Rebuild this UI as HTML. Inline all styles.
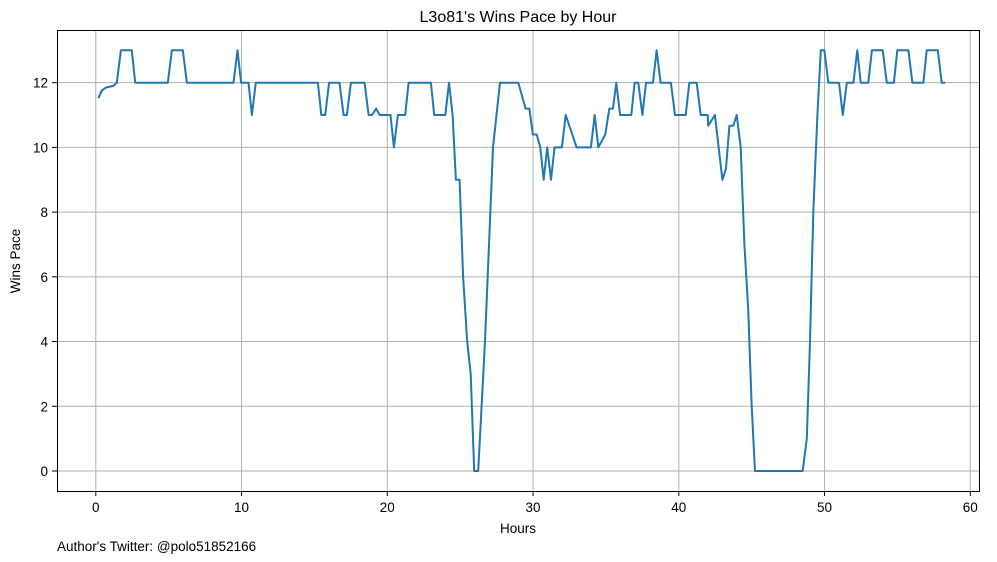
<!DOCTYPE html>
<html><head><meta charset="utf-8"><style>
body{margin:0;background:#fff;}
svg{display:block;font-family:"Liberation Sans",sans-serif;}
</style></head><body>
<svg id="chart" width="997" height="562">
<text x="518" y="22" text-anchor="middle" font-size="16">L3o81's Wins Pace by Hour</text>
<g id="grid"></g>
<g id="ticks"></g>
<path id="line" fill="none" stroke="#1f77b4" stroke-width="2" stroke-linejoin="round"/>
<rect x="57.5" y="30.5" width="922" height="461" fill="none" stroke="#000" stroke-width="1"/>
<text x="518" y="533" text-anchor="middle" font-size="13.5">Hours</text>
<text x="20" y="261" text-anchor="middle" font-size="13.5" transform="rotate(-90 20 261)">Wins Pace</text>
<text x="57" y="551" font-size="13.5">Author's Twitter: @polo51852166</text>
</svg>
<script>
const hours=[0.18,0.4,0.7,1.2,1.44,1.72,2.47,2.7,4.94,5.22,5.97,6.25,9.45,9.72,9.97,10.48,10.71,10.98,15.24,15.47,15.74,16.01,16.72,17.0,17.23,17.5,18.44,18.72,18.94,19.24,19.47,20.22,20.45,20.73,21.23,21.46,22.99,23.22,23.98,24.23,24.48,24.71,24.96,25.2,25.48,25.72,25.96,26.24,26.47,26.7,27.25,27.73,28.99,29.49,29.74,29.99,30.25,30.5,30.73,30.97,31.23,31.48,31.98,32.24,32.99,33.97,34.23,34.48,34.96,35.23,35.48,35.71,35.97,36.74,36.97,37.22,37.5,37.75,38.23,38.48,38.75,39.46,39.74,40.47,40.72,41.23,41.5,41.98,42.02,42.48,42.99,43.24,43.47,43.74,43.97,44.25,44.5,44.76,45.0,45.23,48.5,48.78,49.0,49.23,49.51,49.74,49.99,50.26,50.99,51.25,51.53,51.98,52.25,52.48,53.0,53.25,53.99,54.27,54.76,54.99,55.75,56.03,56.78,57.01,57.77,58.04,58.27];
const pace=[11.52,11.75,11.85,11.9,12,13,13,12,12,13,13,12,12,13,12,12,11,12,12,11,11,12,12,11,11,12,12,11,11,11.2,11,11,10,11,11,12,12,11,11,12,11,9,9,6,4,3,0,0,2,4,10,12,12,11.2,11.2,10.4,10.4,10,9,10,9,10,10,11,10,10,11,10,10.4,11.2,11.2,12,11,11,12,12,11,12,12,13,12,12,11,11,12,12,11,11,10.67,11,9,9.35,10.67,10.67,11,10,7,5,2,0,0,1,4,8,11,13,13,12,12,11,12,12,13,12,12,13,13,12,12,13,13,12,12,13,13,12,12];
const xTicks=[0,10,20,30,40,50,60];
const yTicks=[0,2,4,6,8,10,12];
const X=h=>95.8+h*14.575;
const Y=v=>471-v*32.36;
const NS="http://www.w3.org/2000/svg";
const grid=document.getElementById('grid'),ticks=document.getElementById('ticks');
function mk(tag,attrs,parent){const e=document.createElementNS(NS,tag);for(const k in attrs)e.setAttribute(k,attrs[k]);parent.appendChild(e);return e;}
xTicks.forEach(t=>{
  const x=X(t);
  const g=mk('line',{x1:x,x2:x,y1:30,y2:491,stroke:'#b0b0b0','stroke-width':1},grid);
  
  
  const tk=mk('line',{x1:x,x2:x,y1:491,y2:496,stroke:'#000','stroke-width':1},ticks);
  
  
  const tx=mk('text',{x:x,y:512,'text-anchor':'middle','font-size':13.5},ticks);
  tx.textContent=t;
  
  
});
yTicks.forEach(t=>{
  const y=Y(t);
  const g=mk('line',{x1:57,x2:980,y1:y,y2:y,stroke:'#b0b0b0','stroke-width':1},grid);
  
  
  const tk=mk('line',{x1:52,x2:57,y1:y,y2:y,stroke:'#000','stroke-width':1},ticks);
  
  
  const tx=mk('text',{x:48,y:y+5,'text-anchor':'end','font-size':13.5},ticks);
  tx.textContent=t;
  
  
});
document.getElementById('line').setAttribute('d',hours.map((h,i)=>(i?'L':'M')+X(h).toFixed(1)+','+Y(pace[i]).toFixed(1)).join(''));
</script>
</body></html>
